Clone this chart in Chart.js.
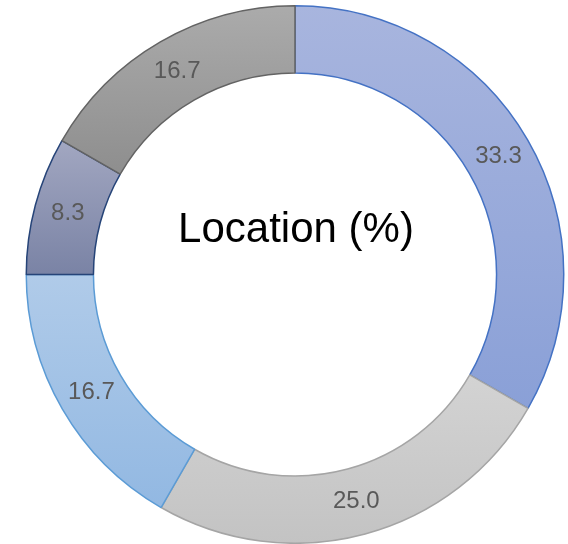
<!DOCTYPE html>
<html>
<head>
<meta charset="utf-8">
<script src="https://cdn.jsdelivr.net/npm/chart.js@4/dist/chart.umd.min.js"></script>
<style>
  html, body { margin: 0; padding: 0; background: #ffffff; }
  #wrap { width: 568px; height: 544px; position: relative; }
</style>
</head>
<body>
<div id="wrap"><canvas id="c" width="568" height="544"></canvas></div>
<script>
const categories = ["A", "B", "C", "D", "E"];
const values = [33.3, 25.0, 16.7, 8.3, 16.7];
const centerTitle = "Location (%)";
const gradTop = ["#a8b5de", "#d3d3d3", "#b0cbe9", "#a2a7c1", "#ababab"];
const gradBottom = ["#8aa0d7", "#c3c3c3", "#92b8e2", "#7a83a5", "#8e8e8e"];
const borderColors = ["#4472c4", "#a5a5a5", "#5b9bd5", "#264478", "#636363"];

function segmentGradient(context) {
  const chart = context.chart;
  const i = context.dataIndex;
  const area = chart.chartArea;
  if (!area || i === undefined) return gradTop[i] || '#ccc';
  const cx = (area.left + area.right) / 2;
  const cy = (area.top + area.bottom) / 2;
  const R = Math.min(area.right - area.left, area.bottom - area.top) / 2;
  const r = R * 0.75;
  const total = values.reduce((a, b) => a + b, 0);
  let start = -Math.PI / 2;
  for (let k = 0; k < i; k++) start += values[k] / total * Math.PI * 2;
  const end = start + values[i] / total * Math.PI * 2;
  let minY = Infinity, maxY = -Infinity;
  for (let s = 0; s <= 60; s++) {
    const a = start + (end - start) * s / 60;
    for (const rad of [R, r]) {
      const y = cy + rad * Math.sin(a);
      if (y < minY) minY = y;
      if (y > maxY) maxY = y;
    }
  }
  const g = chart.ctx.createLinearGradient(0, minY, 0, maxY);
  g.addColorStop(0, gradTop[i]);
  g.addColorStop(1, gradBottom[i]);
  return g;
}

const labelPlugin = {
  id: 'labelPlugin',
  afterDatasetsDraw(chart) {
    const ctx = chart.ctx;
    const meta = chart.getDatasetMeta(0);
    ctx.save();
    ctx.font = '24px "Liberation Sans", Arial, sans-serif';
    ctx.fillStyle = '#595959';
    ctx.textAlign = 'center';
    ctx.textBaseline = 'middle';
    meta.data.forEach((arc, i) => {
      const p = arc.getCenterPoint();
      ctx.fillText(values[i].toFixed(1), p.x, p.y);
    });
    const area = chart.chartArea;
    const cx = (area.left + area.right) / 2;
    ctx.font = '42px "Liberation Sans", Arial, sans-serif';
    ctx.fillStyle = '#000000';
    ctx.textBaseline = 'alphabetic';
    ctx.fillText(centerTitle, cx + 1, 242);
    ctx.restore();
  }
};

new Chart(document.getElementById('c'), {
  type: 'doughnut',
  data: {
    labels: categories,
    datasets: [{
      data: values,
      backgroundColor: segmentGradient,
      borderColor: borderColors,
      borderWidth: 1.5,
      borderAlign: 'center'
    }]
  },
  options: {
    responsive: false,
    animation: false,
    cutout: '75%',
    layout: { padding: { top: 5, bottom: 0, left: 22, right: 0 } },
    plugins: {
      legend: { display: false },
      tooltip: { enabled: false },
      title: { display: false }
    }
  },
  plugins: [labelPlugin]
});
</script>
</body>
</html>
